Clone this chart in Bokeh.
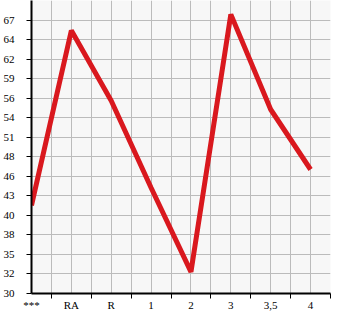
from bokeh.plotting import figure
from bokeh.models import FixedTicker, Range1d, Legend, LegendItem
from bokeh.embed import file_html
from bokeh.resources import INLINE

categories = ["***", "RA", "R", "1", "2", "3", "3,5", "4"]
prices = [41.6, 65.5, 55.9, 44.0, 32.5, 67.7, 54.7, 46.5]
series_name = "Средняя Цена, тыс. йен"
y_tick_labels = ["30", "32", "35", "38", "40", "43", "46", "48", "51", "54", "56", "59", "62", "64", "67"]

y_base = 29.55
y_step = 2.67

y_ticks = [round(y_base + y_step * k, 4) for k in range(len(y_tick_labels))]
y_top = round(y_base + y_step * (len(y_tick_labels)), 4)
xs = list(range(len(categories)))

RED = "#d9181e"

p = figure(frame_width=299, frame_height=293, output_backend="svg", toolbar_location=None,
           x_range=Range1d(0, len(categories) - 0.5), y_range=Range1d(y_base, y_top),
           min_border_left=31, min_border_right=15, min_border_top=0, min_border_bottom=0)
p.background_fill_color = "#f7f7f7"
p.border_fill_color = "white"
p.outline_line_color = None

r = p.line(xs, prices, line_color=RED, line_width=5)

# x axis
xa = p.xaxis[0]
xa.ticker = FixedTicker(ticks=xs, minor_ticks=[x + 0.5 for x in xs])
xa.major_label_overrides = {x: c for x, c in zip(xs, categories)}
xa.major_tick_out = 0
xa.major_tick_in = 0
xa.minor_tick_out = 5
xa.minor_tick_in = 0
xa.minor_tick_line_color = "black"
xa.axis_line_color = "black"
xa.axis_line_width = 2
xa.major_label_text_font = "Liberation Serif"
xa.major_label_text_font_size = "11px"
xa.major_label_text_color = "black"
xa.major_label_standoff = 0

# y axis
ya = p.yaxis[0]
ya.ticker = FixedTicker(ticks=y_ticks, minor_ticks=[])
ya.major_label_overrides = {t: l for t, l in zip(y_ticks, y_tick_labels)}
ya.major_tick_out = 5
ya.major_tick_in = 0
ya.major_tick_line_color = "black"
ya.axis_line_color = "black"
ya.axis_line_width = 2
ya.major_label_text_font = "Liberation Serif"
ya.major_label_text_font_size = "11px"
ya.major_label_text_color = "black"
ya.major_label_standoff = 12

p.xgrid.ticker = FixedTicker(ticks=[i * 0.5 for i in range(2 * len(categories))])
p.ygrid.ticker = FixedTicker(ticks=y_ticks + [y_top])
p.xgrid.grid_line_color = "#bbbbbb"
p.ygrid.grid_line_color = "#bbbbbb"

legend = Legend(items=[LegendItem(label=series_name, renderers=[r])],
                location="top_left", orientation="horizontal",
                padding=0, margin=0, spacing=0,
                glyph_width=22, glyph_height=10, label_standoff=7,
                border_line_color=None, background_fill_alpha=0,
                label_text_color=RED, label_text_font="Liberation Serif",
                label_text_font_size="13px", label_height=15)
p.add_layout(legend, "below")

open("out.html", "w").write(file_html(p, INLINE))
